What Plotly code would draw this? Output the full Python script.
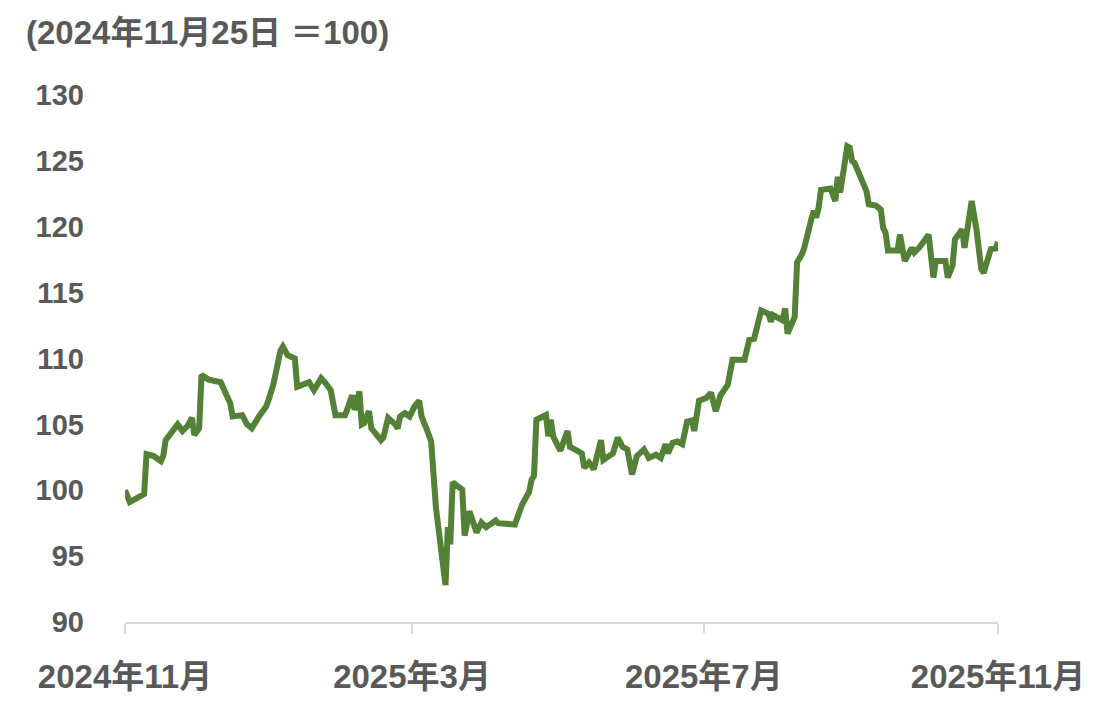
import pandas as pd
import plotly.graph_objects as go

base_date = "2024-11-25"
# days after 2024-11-25
day_offsets = [0, 2, 4, 8, 9, 12, 15, 16, 17, 20, 22, 24, 26, 28, 29, 31, 32, 35, 40, 42,
               44, 45, 49, 51, 53, 56, 59, 60, 62, 65, 66, 68, 71, 72, 77, 79, 82, 84, 86, 88,
               92, 95, 96, 98, 99, 100, 102, 103, 105, 107, 108, 110, 113, 114, 115, 117, 119, 121, 123, 124,
               126, 128, 130, 134, 135, 136, 137, 139, 141, 142, 144, 147, 149, 151, 155, 156, 163, 166, 167, 169,
               170, 171, 172, 176, 177, 178, 179, 182, 185, 186, 189, 191, 192, 194, 196, 199, 200, 203, 204, 206,
               208, 210, 212, 214, 217, 219, 222, 224, 226, 227, 229, 231, 233, 235, 237, 238, 240, 243, 245, 247,
               249, 252, 254, 259, 261, 263, 266, 269, 270, 271, 275, 276, 277, 280, 281, 283, 284, 287, 288, 289,
               290, 291, 295, 297, 298, 299, 302, 303, 304, 305, 308, 310, 311, 314, 316, 317, 318, 319, 323, 324,
               326, 329, 330, 332, 336, 338, 339, 343, 344, 346, 347, 350, 351, 354, 356, 358, 359, 362, 364, 365]
index_values = [100.0, 99.1, 99.3, 99.7, 102.75, 102.6, 102.2, 102.6, 103.8, 104.5, 105.0, 104.5, 104.85, 105.5, 104.2, 104.7, 108.75, 108.4, 108.2, 107.4,
                106.6, 105.6, 105.7, 105.0, 104.7, 105.6, 106.35, 106.85, 108.0, 110.6, 110.9, 110.25, 110.0, 107.85, 108.2, 107.6, 108.5, 108.1, 107.6, 105.7,
                105.7, 107.2, 106.1, 107.5, 105.0, 105.1, 106.0, 104.7, 104.2, 103.8, 104.0, 105.5, 105.0, 104.7, 105.6, 105.85, 105.6, 106.35, 106.8, 105.6,
                104.7, 103.7, 98.7, 92.8, 97.2, 95.9, 100.6, 100.3, 100.05, 96.55, 98.4, 96.8, 97.55, 97.2, 97.7, 97.5, 97.4, 98.9, 99.3, 99.9,
                100.8, 101.1, 105.35, 105.7, 104.1, 105.35, 104.1, 103.0, 104.5, 103.3, 103.0, 102.8, 101.7, 102.1, 101.6, 103.8, 102.3, 102.6, 102.8, 104.0,
                103.3, 103.1, 101.2, 102.6, 103.1, 102.45, 102.7, 102.45, 103.5, 102.8, 103.6, 103.7, 103.5, 105.2, 105.3, 104.5, 106.8, 107.0, 107.4, 106.0,
                107.2, 108.0, 109.9, 109.9, 111.4, 111.5, 113.65, 113.4, 112.8, 113.3, 112.9, 113.8, 111.9, 113.15, 117.3, 117.9, 118.4, 120.6, 121.2, 120.7,
                121.45, 122.8, 122.9, 121.95, 123.8, 122.6, 126.1, 126.0, 125.0, 124.85, 123.5, 122.7, 121.7, 121.6, 121.3, 119.9, 119.55, 118.2, 118.2, 119.4,
                117.4, 118.4, 118.05, 118.4, 119.4, 116.15, 117.4, 117.4, 116.15, 117.05, 119.05, 119.8, 118.4, 121.95, 119.8, 116.8, 116.5, 118.3, 118.35, 118.85]

tick_dates = ["2024-11-25", "2025-03-25", "2025-07-25", "2025-11-25"]
tick_labels = ["2024年11月", "2025年3月", "2025年7月", "2025年11月"]
y_ticks = [90, 95, 100, 105, 110, 115, 120, 125, 130]

dates = pd.Timestamp(base_date) + pd.to_timedelta(day_offsets, unit="D")

font_family = "Liberation Sans, Arial, Noto Sans CJK JP, sans-serif"
gray = "#595959"

fig = go.Figure()
fig.add_trace(go.Scatter(
    x=dates, y=index_values, mode="lines",
    line=dict(color="#538135", width=6),
    hoverinfo="x+y", showlegend=False,
))

fig.update_layout(
    width=1090, height=699,
    margin=dict(l=117, r=100, t=87, b=82),
    paper_bgcolor="white", plot_bgcolor="white",
    font=dict(family=font_family, color=gray, size=28),
    xaxis=dict(
        type="date",
        range=[tick_dates[0], tick_dates[-1]],
        tickmode="array", tickvals=tick_dates, ticktext=tick_labels,
        showgrid=False, zeroline=False,
        showline=True, linecolor="#d9d9d9", linewidth=2,
        ticks="outside", ticklen=10, tickwidth=2, tickcolor="#d9d9d9",
        ticklabelstandoff=14,
        tickfont=dict(family=font_family, color=gray, size=33, weight="bold"),
    ),
    yaxis=dict(
        range=[90, 130],
        tickmode="array", tickvals=y_ticks,
        showgrid=False, zeroline=False, showline=False,
        ticks="", ticklabelstandoff=40,
        tickfont=dict(family=font_family, color=gray, size=29, weight="bold"),
    ),
    annotations=[dict(
        text="(2024年11月25日 ＝100)",
        xref="paper", yref="paper",
        x=-101 / 873, y=(699 - 82 - 24) / 530,
        xanchor="left", yanchor="middle",
        showarrow=False,
        font=dict(family=font_family, color=gray, size=33, weight="bold"),
    )],
)

fig.write_html("out.html")
